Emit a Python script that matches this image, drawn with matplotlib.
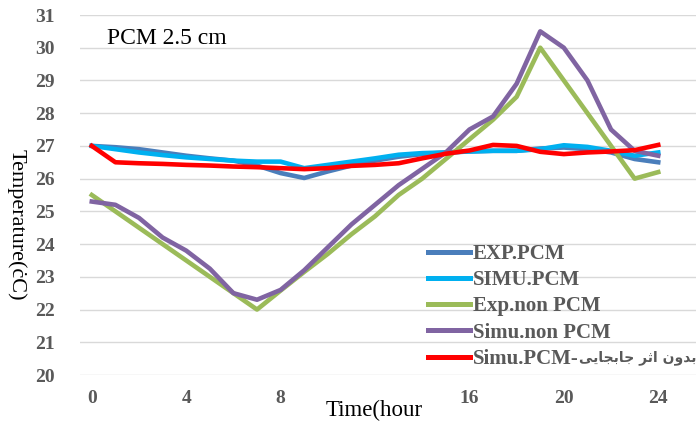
import numpy as np
import matplotlib
matplotlib.use("Agg")
import matplotlib.pyplot as plt

# ── data ──────────────────────────────────────────────────────────────────
hours = np.arange(0, 25)

exp_pcm = [27.0, 26.96, 26.9, 26.8, 26.7, 26.62, 26.55, 26.4, 26.17, 26.02,
           26.22, 26.4, 26.55, 26.67, 26.75, 26.8, 26.83, 26.85, 26.85, 26.92,
           26.95, 26.9, 26.8, 26.6, 26.5]
simu_pcm = [27.0, 26.9, 26.8, 26.72, 26.65, 26.6, 26.55, 26.52, 26.52, 26.32,
            26.42, 26.52, 26.62, 26.73, 26.78, 26.8, 26.83, 26.85, 26.85, 26.9,
            27.02, 26.97, 26.85, 26.7, 26.8]
exp_non = [25.5, 25.0, 24.5, 24.0, 23.5, 23.0, 22.5, 22.0, 22.58, 23.15,
           23.7, 24.3, 24.85, 25.5, 26.0, 26.6, 27.2, 27.8, 28.5, 30.0,
           29.0, 28.0, 27.0, 26.0, 26.2]
simu_non = [25.3, 25.2, 24.8, 24.2, 23.8, 23.25, 22.5, 22.3, 22.6, 23.2,
            23.9, 24.6, 25.2, 25.8, 26.3, 26.8, 27.5, 27.9, 28.9, 30.5,
            30.0, 29.0, 27.5, 26.85, 26.7]
simu_pcm_noconv = [27.0, 26.5, 26.47, 26.45, 26.42, 26.4, 26.37, 26.35, 26.32, 26.29,
                   26.32, 26.39, 26.42, 26.47, 26.62, 26.76, 26.86, 27.03, 27.0, 26.82,
                   26.75, 26.8, 26.83, 26.87, 27.03]

# Persian tail of the last label ("بدون اثر جابجایی"), written in visual order with
# presentation forms because matplotlib does no bidi shaping
fa_visual = "\uFBFD\uFBFE\uFE8E\uFEA0\uFE91\uFE8E\uFE9F \uFEAE\uFE9B\uFE8D \uFEE5\uFEED\uFEAA\uFE91"
labels = ["EXP.PCM", "SIMU.PCM", "Exp.non PCM", "Simu.non PCM", "Simu.PCM-"]
colors = ["#4A7EBB", "#00B0F0", "#9BBB59", "#8064A2", "#FF0000"]

xticks = [0, 4, 8, 12, 16, 20, 24]
xtick_labels = ["0", "4", "8", "", "16", "20", "24"]
yticks = np.arange(20, 32)

SERIF = ["Liberation Serif", "DejaVu Serif", "DejaVu Sans"]
GREY = "#595959"

fig = plt.figure(figsize=(6.99, 4.21), dpi=100)
ax = fig.add_axes([80 / 699, 1 - 375 / 421, 616 / 699, 360 / 421])

series = [exp_pcm, simu_pcm, exp_non, simu_non, simu_pcm_noconv]
for ys, c, lab in zip(series, colors, labels):
    ax.plot(hours, ys, color=c, lw=3.3, label=lab, solid_joinstyle="round")

ax.set_xlim(-0.5, 25.6)
ax.set_ylim(20, 31)
ax.set_yticks(yticks)
ax.set_xticks(xticks)
ax.set_xticklabels(xtick_labels)
ax.yaxis.grid(True, color="#D9D9D9", lw=1)
ax.set_axisbelow(True)
for s in ax.spines.values():
    s.set_visible(False)
ax.tick_params(length=0)
ax.tick_params(axis="y", pad=18)
ax.tick_params(axis="x", pad=11)
for t in ax.get_xticklabels() + ax.get_yticklabels():
    t.set_family(SERIF)
    t.set_fontweight("bold")
    t.set_fontsize(14)
    t.set_color(GREY)

leg = ax.legend(loc="upper left", bbox_to_anchor=(428 / 699, 1 - 244 / 421),
                bbox_transform=fig.transFigure, frameon=False,
                prop={"family": SERIF, "weight": "bold", "size": 15},
                handlelength=2.0, handletextpad=0.15, labelspacing=0.3,
                borderpad=0, borderaxespad=0)
for t in leg.get_texts():
    t.set_color(GREY)
for h in leg.get_lines():
    h.set_linewidth(3.6)

# put the Persian words right after "Simu.PCM-"
fig.canvas.draw()
bb = leg.get_texts()[-1].get_window_extent()
x_fa, y_fa = fig.transFigure.inverted().transform((bb.x1, (bb.y0 + bb.y1) / 2 + 1))
fig.text(x_fa, y_fa, fa_visual, family="DejaVu Sans", fontweight="bold",
         fontsize=10, color=GREY, va="center", ha="left")

fig.text(107 / 699, 1 - 39 / 421, "PCM 2.5 cm", family=SERIF, fontsize=17,
         va="center", ha="left")
fig.text(374 / 699, 1 - 410 / 421, "Time(hour", family=SERIF, fontsize=16.5,
         va="center", ha="center")
fig.text(16 / 699, 1 - 225 / 421, "Temperature(ċC)", family=SERIF, fontsize=16,
         va="center", ha="center", rotation=270)

fig.savefig("out.png", dpi=100)
